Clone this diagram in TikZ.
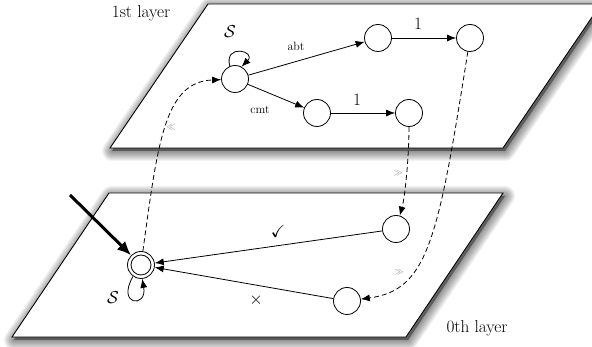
\documentclass[tikz,border=0pt]{standalone}
\usepackage{amssymb}
\usetikzlibrary{arrows.meta}

\tikzset{
  state/.style={circle, draw, line width=0.8pt, minimum size=27pt, inner sep=0pt},
  inner state/.style={circle, draw, line width=0.8pt, minimum size=20pt, inner sep=0pt},
  trans/.style={line width=0.8pt, -{Latex[length=9pt,width=7pt]}},
  jump/.style={line width=0.8pt, dash pattern=on 5pt off 3pt, -{Latex[length=9pt,width=7pt]}},
  bigtxt/.style={font=\LARGE},
  midtxt/.style={font=\large},
  marktxt/.style={font=\small, text=black!45},
  plane/.style={fill=white, draw, line width=0.9pt, line join=miter},
  planeshade/.style={draw=black, fill=black, draw opacity=0.05, fill opacity=0.05, line join=round, shift={(2pt,-3pt)}}
}

\begin{document}
\begin{tikzpicture}[x=1pt, y=1pt]
  \useasboundingbox (0,0) rectangle (592,347);
  \clip (0,0) rectangle (592,347);

  % 0th layer: soft shadow, then the plane itself
  \foreach \w in {2,4,...,20} {
    \path[planeshade, line width=\w pt] (109,154) -- (503,154) -- (406,10) -- (12,10) -- cycle;
  }
  \path[plane] (109,154) -- (503,154) -- (406,10) -- (12,10) -- cycle;

  % 1st layer
  \foreach \w in {2,4,...,20} {
    \path[planeshade, line width=\w pt] (208,343) -- (601,343) -- (503,199) -- (110,199) -- cycle;
  }
  \path[plane] (208,343) -- (601,343) -- (503,199) -- (110,199) -- cycle;

  \node[bigtxt] (layerA) at (141,334) {1st layer};
  \node[bigtxt] (layerB) at (477,19) {0th layer};

  % states of the 1st layer
  \node[state] (s)  at (235,268) {};
  \node[state] (t1) at (378,309) {};
  \node[state] (t2) at (470,309) {};
  \node[state] (m1) at (317,234) {};
  \node[state] (m2) at (409,234) {};

  % states of the 0th layer
  \node[state] (q0) at (141,82) {};
  \node[inner state] (q0in) at (q0) {};
  \node[state] (l1) at (396,118) {};
  \node[state] (l2) at (347,46) {};

  % transitions, 1st layer
  \draw[trans] (s) -- (t1);
  \draw[trans] (s) -- (m1);
  \draw[trans] (t1) -- (t2);
  \draw[trans] (m1) -- (m2);
  \draw[trans] (s.112) .. controls +(105:24) and +(45:22) .. (s.62);

  \node[midtxt] (abt) at (296,301) {abt};
  \node[midtxt] (cmt) at (260,237) {cmt};
  \node[bigtxt] (oneA) at (418,323) {1};
  \node[bigtxt] (oneB) at (357,247) {1};
  \node[bigtxt] (sA) at (230,315) {$\mathcal{S}$};

  % transitions, 0th layer
  \draw[trans] (l1) -- (q0);
  \draw[trans] (l2) -- (q0);
  \draw[trans] (q0.235) .. controls +(240:34) and +(-80:30) .. (q0.-85);
  \node[bigtxt] (ok) at (278,115) {$\checkmark$};
  \node[bigtxt] (no) at (256,47) {$\times$};
  \node[bigtxt] (sB) at (113,49) {$\mathcal{S}$};

  % initial arrow
  \coordinate (init) at (70,152);
  \draw[line width=3pt, -{Latex[length=14pt,width=12pt]}] (init) -- (q0);

  % jumps between layers
  \draw[jump] (q0) .. controls (158,207) and (165,265) .. (s);
  \draw[jump] (m2) .. controls (409,190) and (405,150) .. (l1);
  \draw[jump] (t2) .. controls (438,107) and (428,57) .. (l2);

  \node[marktxt] (upA) at (171,220) {$\ll$};
  \node[marktxt] (downA) at (398,174) {$\gg$};
  \node[marktxt] (downB) at (399,75) {$\gg$};
\end{tikzpicture}
\end{document}
